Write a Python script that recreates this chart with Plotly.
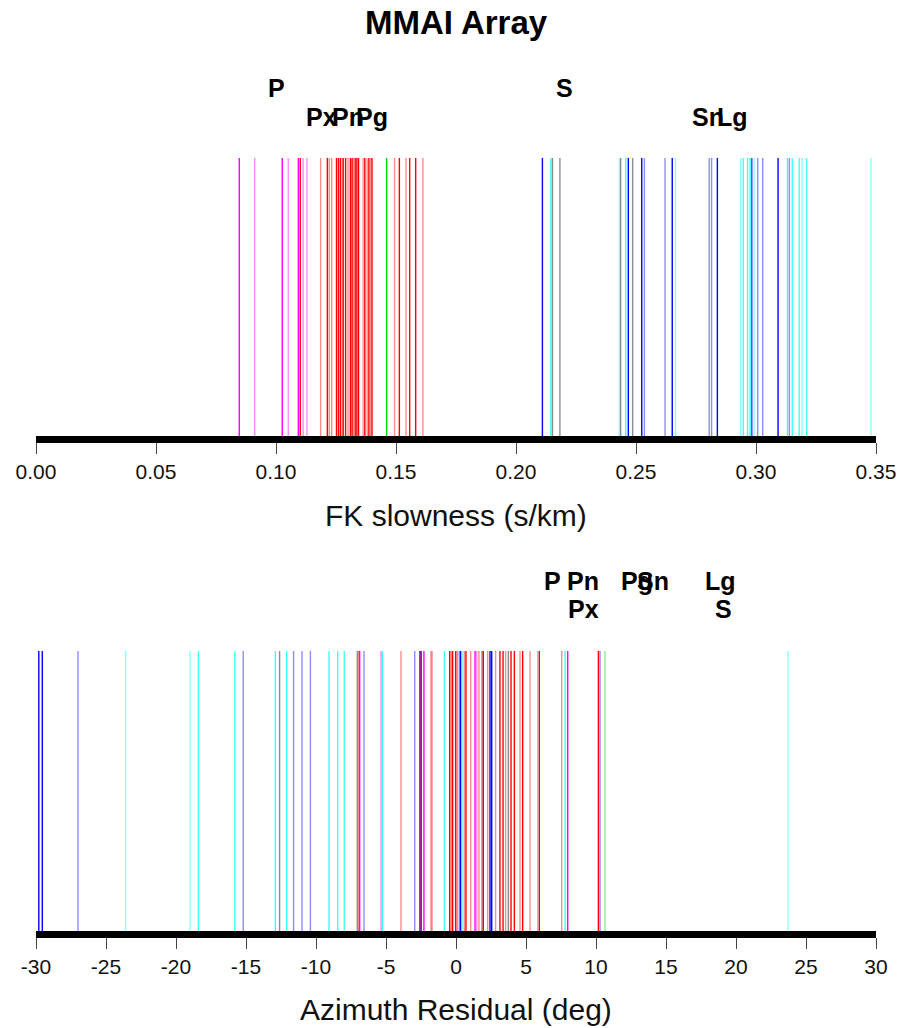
import plotly.graph_objects as go
from plotly.subplots import make_subplots

# FK slowness picks (s/km) with phase and shade level (1 = solid, 0 = light)
slow_vals = [0.0847, 0.0911, 0.1026, 0.1051, 0.1093, 0.1101, 0.1113, 0.1129,
             0.1186, 0.1214, 0.1222, 0.1232, 0.1252, 0.1260, 0.1268, 0.1275,
             0.1280, 0.1290, 0.1300, 0.1310, 0.1317, 0.1322, 0.1330, 0.1337,
             0.1344, 0.1363, 0.1370, 0.1380, 0.1387, 0.1394, 0.1400, 0.1461,
             0.1494, 0.1514, 0.1542, 0.1557, 0.1582, 0.1612,
             0.2110, 0.2145, 0.2152, 0.2183, 0.2431, 0.2436, 0.2457, 0.2468,
             0.2486, 0.2524, 0.2535, 0.2621, 0.2651, 0.2665,
             0.2805, 0.2815, 0.2839, 0.2936, 0.2947, 0.2965, 0.2974, 0.2979,
             0.2982, 0.2992, 0.3007, 0.3028, 0.3092, 0.3131, 0.3139, 0.3151,
             0.3180, 0.3192, 0.3211, 0.3479]
slow_phase = ["P", "P", "P", "P", "P", "Pn", "P", "P",
              "Pn", "Pn", "Pn", "Pn", "Pn", "Pn", "Pn", "Pn",
              "Pn", "Pn", "Pn", "Pn", "Pn", "Pn", "Pn", "Pn",
              "Pn", "Pn", "Pn", "Pn", "Pn", "Pn", "Pn", "Pg",
              "Pn", "Pn", "Pn", "Pn", "Pn", "Pn",
              "Sn", "Lg", "S", "S", "Lg", "S", "Lg", "Sn",
              "S", "Sn", "Sn", "Sn", "Sn", "Lg",
              "Sn", "Sn", "Sn", "Lg", "Lg", "Lg", "Lg", "Lg",
              "Sn", "Lg", "Sn", "Sn", "Sn", "Lg", "Sn", "Lg",
              "Lg", "Lg", "Lg", "Lg"]
slow_shade = [1, 0, 1, 0, 1, 1, 0, 0,
              0, 1, 0, 0, 1, 1, 1, 0,
              1, 1, 0, 1, 1, 0, 1, 1,
              1, 0, 1, 0, 1, 0, 1, 1,
              0, 1, 0, 1, 1, 0,
              1, 1, 0, 0, 0, 0, 1, 1,
              0, 1, 0, 0, 1, 0,
              0, 0, 1, 0, 1, 1, 0, 1,
              1, 0, 0, 0, 1, 1, 0, 1,
              1, 0, 1, 0]

# Azimuth residual picks (deg)
az_vals = [-29.80, -29.55, -27.0, -23.6, -19.0, -18.4, -15.8, -15.2,
           -12.9, -12.6, -12.1, -11.6, -11.0, -10.4, -9.07, -8.45, -7.98,
           -7.05, -6.95, -6.88, -6.57, -5.36, -5.26, -3.93, -2.95, -2.57,
           -2.48, -2.29, -1.79, -1.71, -0.83, -0.45, -0.33, -0.24, -0.02,
           0.10, 0.24, 0.33, 0.48, 0.60, 0.71, 1.05, 1.36, 1.48, 1.64,
           1.86, 1.95, 2.26, 2.43, 2.55, 2.83, 3.14, 3.36, 3.55, 3.74,
           3.93, 4.17, 4.57, 4.76, 5.29, 5.83, 5.95, 7.55, 7.79, 7.98,
           10.17, 10.29, 10.64, 23.71]
az_phase = ["Sn", "Sn", "Sn", "Lg", "Lg", "Lg", "Lg", "Sn",
            "Lg", "S", "Lg", "Sn", "Sn", "Sn", "Lg", "Lg", "Lg",
            "S", "Pn", "P", "Sn", "P", "Lg", "Pn", "Sn", "Sn",
            "Pn", "P", "Pn", "Pn", "Lg", "Pn", "Pn", "Pn", "Pn",
            "Pn", "Sn", "Sn", "Lg", "Pn", "Pn", "Pn", "P", "P", "Pn",
            "S", "Pn", "Pn", "Sn", "Sn", "Pn", "Pn", "Pn", "Pn", "S",
            "Pn", "Pn", "Pn", "Pn", "Pn", "Lg", "Pn", "Pn", "Lg", "P",
            "Pn", "Sn", "Pg", "Lg"]
az_shade = [1, 1, 0, 0, 0, 1, 1, 0,
            1, 0, 1, 0, 0, 0, 1, 1, 1,
            0, 0, 1, 0, 0, 1, 0, 0, 1,
            1, 1, 0, 0, 1, 1, 0, 1, 1,
            0, 0, 1, 0, 0, 1, 0, 1, 0, 0,
            0, 1, 0, 1, 1, 0, 1, 1, 0, 0,
            1, 1, 0, 1, 0, 1, 1, 0, 1, 1,
            1, 0, 0, 0]

# Predicted phase markers: label, value, row
slow_labels = ["P", "Px", "Pn", "Pg", "S", "Sn", "Lg"]
slow_label_x = [0.100, 0.119, 0.130, 0.140, 0.220, 0.280, 0.290]
slow_label_row = [0, 1, 1, 1, 0, 1, 1]

az_labels = ["P", "Pn", "Px", "Pg", "Sn", "Lg", "S"]
az_label_x = [6.9, 9.1, 9.1, 12.9, 14.1, 18.9, 19.1]
az_label_row = [0, 0, 1, 0, 0, 0, 1]

slow_ticks = [0.00, 0.05, 0.10, 0.15, 0.20, 0.25, 0.30, 0.35]
az_ticks = list(range(-30, 31, 5))

PHASE_RGB = {"P": (255, 0, 255), "Pn": (255, 0, 0), "Pg": (0, 220, 0),
             "S": (0, 0, 0), "Sn": (0, 0, 255), "Lg": (0, 255, 255)}


def color_for(phase, shade):
    r, g, b = PHASE_RGB[phase]
    a = 1.0 if shade else 0.45
    if phase == "S":
        a = 0.8 if shade else 0.45
    if phase == "Lg":
        a = 0.75 if shade else 0.45
    return f"rgba({r},{g},{b},{a})"


def add_picks(fig, vals, phases, shades, row):
    groups = {}
    for v, p, s in zip(vals, phases, shades):
        groups.setdefault(color_for(p, s), []).append(v)
    for col, xs in groups.items():
        x, y = [], []
        for v in xs:
            x += [v, v, None]
            y += [0, 1, None]
        fig.add_trace(go.Scatter(x=x, y=y, mode="lines", showlegend=False,
                                 line=dict(color=col, width=1.4),
                                 hoverinfo="skip"),
                      row=row, col=1)


fig = make_subplots(rows=2, cols=1)
add_picks(fig, slow_vals, slow_phase, slow_shade, 1)
add_picks(fig, az_vals, az_phase, az_shade, 2)

H = 1028.0
top_dom = [1 - 436 / H, 1 - 158 / H]
bot_dom = [1 - 931 / H, 1 - 651 / H]

axis_common = dict(showline=True, linecolor="black", linewidth=7,
                   ticks="outside", ticklen=11, tickwidth=1, tickcolor="#444",
                   showgrid=False, zeroline=False, mirror=False,
                   tickfont=dict(family="Liberation Sans", size=21, color="#111"))

fig.update_xaxes(range=[0, 0.35], tickvals=slow_ticks,
                 ticktext=[f"{t:.2f}" for t in slow_ticks], row=1, col=1,
                 **axis_common)
fig.update_xaxes(range=[-30, 30], tickvals=az_ticks,
                 ticktext=[str(t) for t in az_ticks], row=2, col=1,
                 **axis_common)
fig.update_yaxes(range=[0, 1], visible=False, domain=top_dom, row=1, col=1)
fig.update_yaxes(range=[0, 1], visible=False, domain=bot_dom, row=2, col=1)
fig.update_xaxes(domain=[0, 1])

ann = []
label_font = dict(family="Liberation Sans", size=25, color="black")
row_y_top = [1 - 88 / H, 1 - 117 / H]
for t, x, r in zip(slow_labels, slow_label_x, slow_label_row):
    ann.append(dict(text=f"<b>{t}</b>", x=x, xref="x", y=row_y_top[r],
                    yref="paper", showarrow=False, font=label_font,
                    xanchor="center", yanchor="middle"))
row_y_bot = [1 - 581 / H, 1 - 609 / H]
for t, x, r in zip(az_labels, az_label_x, az_label_row):
    ann.append(dict(text=f"<b>{t}</b>", x=x, xref="x2", y=row_y_bot[r],
                    yref="paper", showarrow=False, font=label_font,
                    xanchor="center", yanchor="middle"))

title_font = dict(family="Liberation Sans", size=30, color="#111")
ann.append(dict(text="FK slowness (s/km)", x=0.5, xref="paper",
                y=1 - 515 / H, yref="paper", showarrow=False,
                font=title_font, xanchor="center", yanchor="middle"))
ann.append(dict(text="Azimuth Residual (deg)", x=0.5, xref="paper",
                y=1 - 1009 / H, yref="paper", showarrow=False,
                font=title_font, xanchor="center", yanchor="middle"))
ann.append(dict(text="<b>MMAI Array</b>", x=0.5, xref="paper",
                y=1 - 22 / H, yref="paper", showarrow=False,
                font=dict(family="Liberation Sans", size=33, color="black"),
                xanchor="center", yanchor="middle"))

fig.update_layout(width=904, height=1028, margin=dict(l=36, r=28, t=0, b=0),
                  paper_bgcolor="white", plot_bgcolor="white",
                  annotations=ann)

fig.write_html("out.html")
